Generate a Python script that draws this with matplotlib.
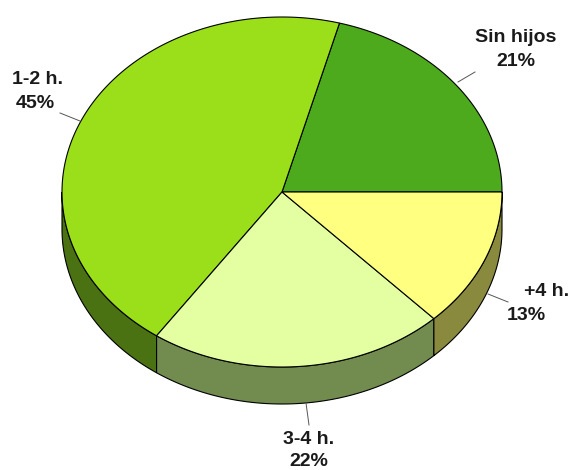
import numpy as np
import matplotlib.pyplot as plt
from matplotlib.patches import Polygon

# Data
labels = ['Sin hijos', '1-2 h.', '3-4 h.', '+4 h.']
values = [21, 45, 22, 13]
top_colors = ['#4DAA1C', '#9ADF1A', '#E4FFA2', '#FFFF80']
side_colors = ['#2F6A10', '#4A7212', '#718C4E', '#8A8A3E']

# geometry of the 3d pie (pixels)
cx, cy, a, b, depth = 282, 192, 220, 175, 37

plt.rcParams['font.family'] = ['Liberation Sans', 'DejaVu Sans']

fig = plt.figure(figsize=(5.71, 4.70), dpi=100)
ax = fig.add_axes([0, 0, 1, 1])
ax.set_xlim(0, 571)
ax.set_ylim(470, 0)
ax.axis('off')

fr = np.array(values) / sum(values)
edges = np.concatenate([[0], np.cumsum(fr)]) * 2 * np.pi


def ell(t, dy=0):
    return np.column_stack([cx + a * np.cos(t), cy - b * np.sin(t) + dy])


# side walls (front half only)
for i in range(len(values)):
    lo, hi = max(edges[i], np.pi), min(edges[i + 1], 2 * np.pi)
    if hi <= lo:
        continue
    t = np.linspace(lo, hi, 150)
    pts = np.vstack([ell(t), ell(t[::-1], depth)])
    ax.add_patch(Polygon(pts, closed=True, fc=side_colors[i], ec='black', lw=0.8))

# top faces
for i in range(len(values)):
    t = np.linspace(edges[i], edges[i + 1], 200)
    pts = np.vstack([[cx, cy], ell(t)])
    ax.add_patch(Polygon(pts, closed=True, fc=top_colors[i], ec='black', lw=0.8))

# labels and leader lines
pct = ['%d%%' % v for v in values]
txt = dict(fontsize=14, fontweight='bold', color='#1a1a1a', ha='center', va='center')
lc = dict(color='#555555', lw=0.7)

ax.text(516, 37, labels[0], **txt)
ax.text(516, 62, pct[0], **txt)
ax.plot([458, 475], [82, 72], **lc)

ax.text(38, 80, labels[1], **txt)
ax.text(35, 103, pct[1], **txt)
ax.plot([80, 60], [121, 113], **lc)

ax.text(309, 440, labels[2], **txt)
ax.text(309, 462, pct[2], **txt)
ax.plot([306, 309], [403, 425], **lc)

ax.text(547, 292, labels[3], **txt)
ax.text(526, 315, pct[3], **txt)
ax.plot([488, 508], [294, 302], **lc)

fig.savefig('out.png', dpi=100, facecolor='white')
